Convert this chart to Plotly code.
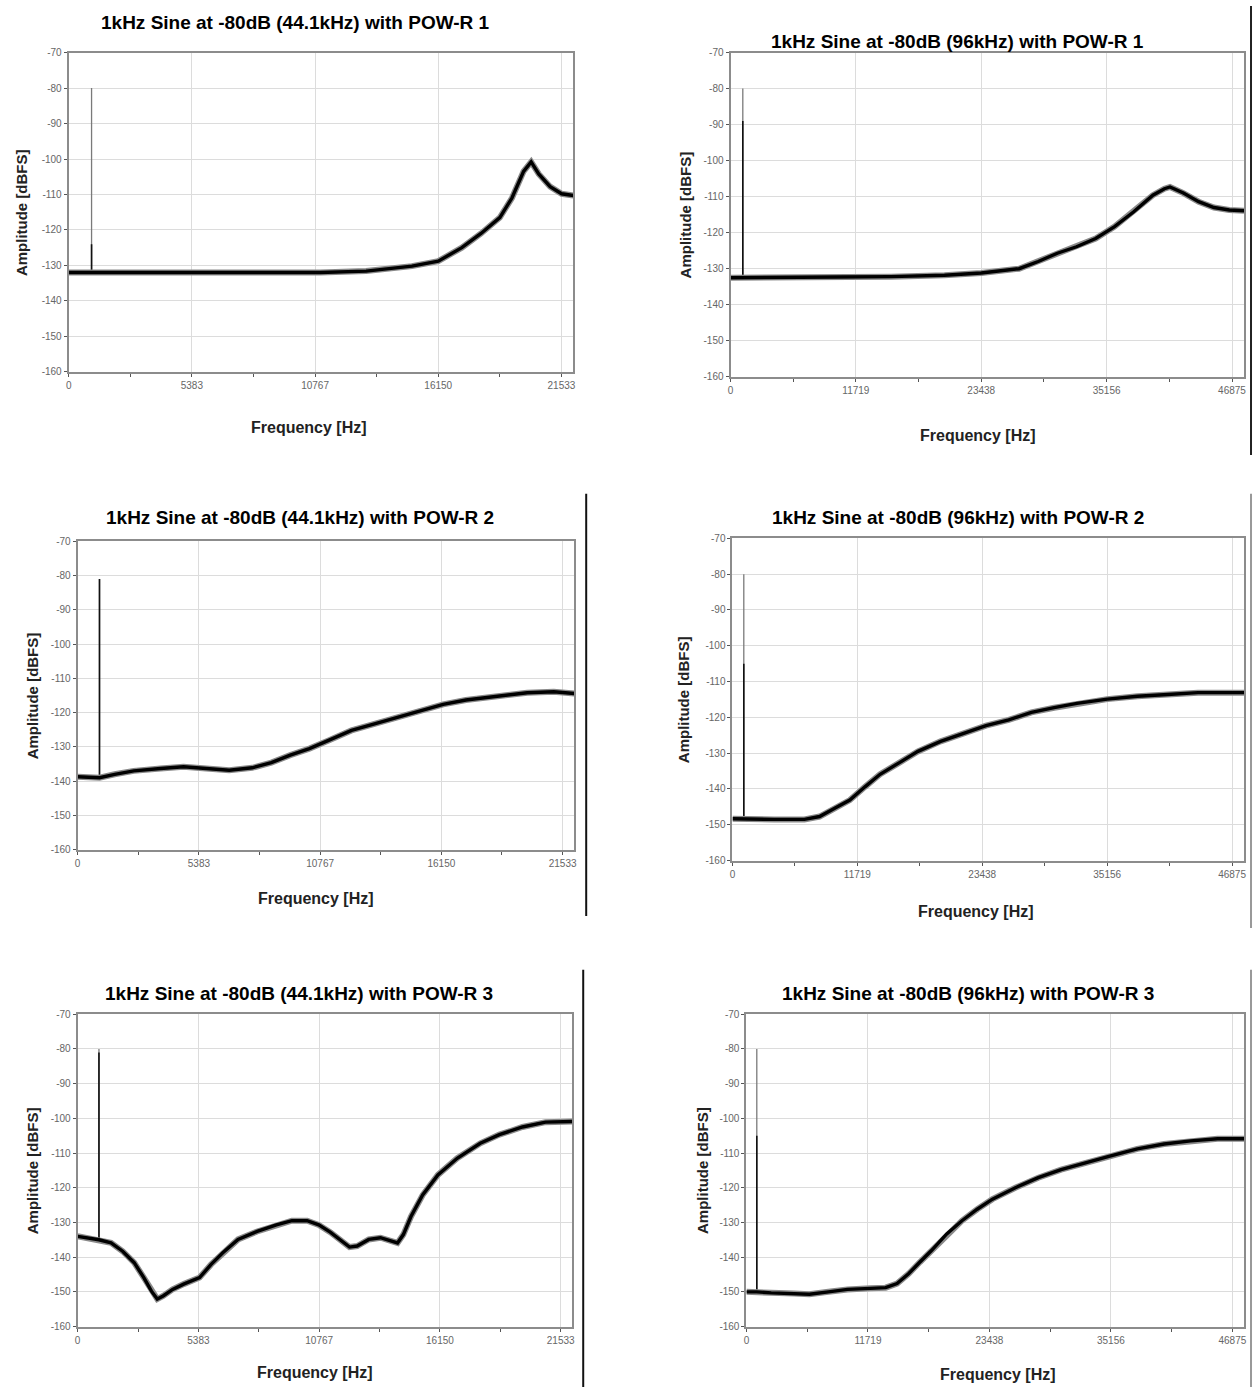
import plotly.graph_objects as go

W, H = 1256, 1393

# ---- data (frequency in Hz, level in dBFS) ----
f44_ticks = [0, 5383, 10767, 16150, 21533]
f96_ticks = [0, 11719, 23438, 35156, 46875]
db_ticks = [-70, -80, -90, -100, -110, -120, -130, -140, -150, -160]

# POW-R 1, 44.1 kHz
p1_freq = [0, 1000, 2000, 5000, 8000, 11000, 13000, 13850, 15000, 16150, 17180, 18020,
           18840, 19370, 19880, 20210, 20540, 21040, 21540, 22050]
p1_level = [-132, -132, -132.2, -132, -132.2, -132, -131.6, -131, -130.2, -128.8, -125, -121,
            -116.5, -111, -103.5, -100.8, -104.2, -107.8, -109.8, -110.3]

# POW-R 1, 96 kHz
p2_freq = [0, 1150, 5000, 10000, 15000, 20000, 23438, 26970, 28760, 30550, 32340, 34130,
           35900, 37690, 39480, 40560, 41080, 42330, 43760, 45190, 46620, 48000]
p2_level = [-132.5, -132.5, -132.5, -132.3, -132.2, -131.8, -131.2, -130, -128, -125.7, -123.9, -121.6,
            -118.3, -114.2, -109.6, -107.8, -107.3, -109, -111.4, -113, -113.7, -113.9]

# POW-R 2, 44.1 kHz
p3_freq = [0, 970, 1645, 2490, 3680, 4700, 5710, 6730, 7750, 8600, 9440, 10290, 11140,
           12160, 13180, 14190, 15210, 16230, 17240, 18600, 19960, 21140, 22050]
p3_level = [-138.7, -139, -138, -137, -136.3, -135.8, -136.3, -136.8, -136.1, -134.6, -132.4, -130.5, -128.1,
            -125.2, -123.3, -121.4, -119.5, -117.6, -116.3, -115.2, -114.2, -113.9, -114.4]

# POW-R 2, 96 kHz
p4_freq = [0, 1060, 3906, 6750, 8170, 9590, 11010, 12430, 13850, 15630, 17400, 19530, 21660,
           23790, 25920, 28050, 30180, 32320, 35160, 38000, 40840, 43680, 48000]
p4_level = [-148.3, -148.4, -148.5, -148.5, -147.7, -145.4, -143.1, -139.4, -135.9, -132.7, -129.5, -126.7, -124.4,
            -122.3, -120.7, -118.6, -117.3, -116.1, -114.9, -114.1, -113.6, -113.1, -113.1]

# POW-R 3, 44.1 kHz
p5_freq = [0, 463, 950, 1490, 2006, 2520, 2950, 3290, 3550, 3810, 4234, 4750, 5435, 5950,
           6460, 7150, 8000, 8860, 9550, 10230, 10750, 11260, 11780, 12120, 12460, 12980,
           13500, 14010, 14260, 14520, 14860, 15380, 16060, 16920, 17950, 18800, 19830,
           20860, 22050]
p5_level = [-134, -134.5, -135, -135.9, -138.3, -141.6, -145.9, -149.8, -152.1, -151.2, -149.3, -147.7, -145.9, -142.1,
            -138.8, -134.9, -132.6, -130.7, -129.5, -129.5, -130.7, -132.8, -135.4, -137.1, -136.8, -134.9,
            -134.4, -135.4, -135.9, -133.5, -128.3, -122.1, -116.3, -111.5, -107.2, -104.7, -102.5,
            -101.1, -100.9]

# POW-R 3, 96 kHz
p6_freq = [0, 1000, 2390, 4600, 6070, 7910, 9750, 11960, 13430, 14530, 15640, 16740, 17850,
           19320, 20790, 22260, 23730, 25940, 28150, 30350, 32560, 35140, 37710, 40290,
           42860, 45440, 48000]
p6_level = [-150, -150, -150.3, -150.5, -150.7, -150, -149.3, -149, -148.8, -147.6, -144.8, -141.4, -138.1,
            -133.3, -129.5, -126.2, -123.3, -120, -117.1, -114.8, -112.9, -110.8, -108.8, -107.4,
            -106.5, -105.9, -105.9]

# the 1 kHz tone: frequency, top of the spike, top of its dark lower part
spike_freq = [1000, 1150, 970, 1060, 950, 1000]
spike_top = [-80, -80, -81, -80, -80, -80]
spike_mid = [-124, -89, -81, -105, -81, -105]

titles = [
    "1kHz Sine at -80dB (44.1kHz) with POW-R 1",
    "1kHz Sine at -80dB (96kHz) with POW-R 1",
    "1kHz Sine at -80dB (44.1kHz) with POW-R 2",
    "1kHz Sine at -80dB (96kHz) with POW-R 2",
    "1kHz Sine at -80dB (44.1kHz) with POW-R 3",
    "1kHz Sine at -80dB (96kHz) with POW-R 3",
]

series = [(p1_freq, p1_level), (p2_freq, p2_level), (p3_freq, p3_level),
          (p4_freq, p4_level), (p5_freq, p5_level), (p6_freq, p6_level)]

# ---- layout in pixels: plot box (left, right, top, bottom), title y/x, x-title y/x, y-title x
boxes = [
    dict(l=66, r=573, t=47, b=369, ty=17, tx=294, xty=425, xtx=307, ytx=18),
    dict(l=731, r=1247, t=47, b=374, ty=36, tx=959, xty=433, xtx=980, ytx=686),
    dict(l=75, r=574, t=540, b=851, ty=516, tx=298, xty=900, xtx=315, ytx=30),
    dict(l=733, r=1247, t=537, b=862, ty=516, tx=960, xty=913, xtx=978, ytx=684),
    dict(l=75, r=572, t=1017, b=1332, ty=996, tx=297, xty=1378, xtx=313, ytx=30),
    dict(l=747, r=1247, t=1017, b=1332, ty=996, tx=970, xty=1380, xtx=1000, ytx=703),
]


def px(x):
    return x / W


def py(y):
    return 1 - y / H


fig = go.Figure()
annotations = []
shapes = []

for i, ((fx, lv), box) in enumerate(zip(series, boxes)):
    n = i + 1
    xa = "x" if n == 1 else f"x{n}"
    ya = "y" if n == 1 else f"y{n}"
    is44 = i % 2 == 0
    ticks = f44_ticks if is44 else f96_ticks
    xmax = 22050 if is44 else 48000
    minor = [(a + b) / 2 for a, b in zip(ticks[:-1], ticks[1:])]

    floor = lv[fx.index(min(fx, key=lambda v: abs(v - spike_freq[i])))]
    # tone spike (light upper part, dark lower part)
    fig.add_trace(go.Scatter(x=[spike_freq[i], spike_freq[i]], y=[floor, spike_top[i]],
                             mode="lines", line=dict(color="#7a7a7a", width=1.3),
                             xaxis=xa, yaxis=ya, showlegend=False, hoverinfo="skip"))
    fig.add_trace(go.Scatter(x=[spike_freq[i], spike_freq[i]], y=[floor, spike_mid[i]],
                             mode="lines", line=dict(color="#111", width=1.6),
                             xaxis=xa, yaxis=ya, showlegend=False, hoverinfo="skip"))
    # noise band halo + trace
    fig.add_trace(go.Scatter(x=fx, y=lv, mode="lines", line=dict(color="#8a8a8a", width=6),
                             xaxis=xa, yaxis=ya, showlegend=False, hoverinfo="skip"))
    fig.add_trace(go.Scatter(x=fx, y=lv, mode="lines", line=dict(color="#000", width=3.4),
                             xaxis=xa, yaxis=ya, showlegend=False))

    axis_common = dict(showline=True, mirror=True, linecolor="#8c8c8c", linewidth=2,
                       showgrid=True, gridcolor="#dcdcdc", gridwidth=1, zeroline=False,
                       ticks="outside", ticklen=3, tickcolor="#555", tickwidth=1,
                       tickfont=dict(family="Liberation Sans Narrow, Liberation Sans", size=10, color="#666"))
    fig.update_layout(**{
        ("xaxis" if n == 1 else f"xaxis{n}"): dict(
            axis_common, domain=[px(box["l"]), px(box["r"])], anchor=ya,
            range=[0, xmax], tickmode="array", tickvals=ticks,
            ticktext=[str(t) for t in ticks],
            minor=dict(tickmode="array", tickvals=minor, ticks="outside", ticklen=3,
                       tickcolor="#555", showgrid=False)),
        ("yaxis" if n == 1 else f"yaxis{n}"): dict(
            axis_common, domain=[py(box["b"]), py(box["t"])], anchor=xa,
            range=[-160, -70], tickmode="array", tickvals=db_ticks,
            ticktext=[str(t) for t in db_ticks]),
    })

    annotations.append(dict(text="<b>" + titles[i] + "</b>", x=px(box["tx"]), y=py(box["ty"]),
                            xref="paper", yref="paper", showarrow=False,
                            font=dict(family="Liberation Sans", size=19, color="#000"),
                            xanchor="center", yanchor="middle"))
    annotations.append(dict(text="<b>Frequency [Hz]</b>", x=px(box["xtx"]), y=py(box["xty"]),
                            xref="paper", yref="paper", showarrow=False,
                            font=dict(family="Liberation Sans", size=16, color="#222"),
                            xanchor="center", yanchor="middle"))
    annotations.append(dict(text="<b>Amplitude [dBFS]</b>", x=px(box["ytx"]),
                            y=py((box["t"] + box["b"]) / 2),
                            xref="paper", yref="paper", showarrow=False, textangle=-90,
                            font=dict(family="Liberation Sans", size=15, color="#222"),
                            xanchor="center", yanchor="middle"))

# vertical separator lines seen at the panel edges
for x0, y0, y1, col in [(1254, 0, 453, "#222"), (586, 492, 918, "#111"),
                        (1254, 492, 930, "#999"), (583, 972, 1393, "#111"),
                        (1254, 972, 1393, "#999")]:
    shapes.append(dict(type="line", xref="paper", yref="paper",
                       x0=px(x0), x1=px(x0), y0=py(y0), y1=py(y1),
                       line=dict(color=col, width=2)))

fig.update_layout(width=W, height=H, margin=dict(l=0, r=0, t=0, b=0),
                  paper_bgcolor="white", plot_bgcolor="white",
                  annotations=annotations, shapes=shapes, showlegend=False)

# drop the default page margin so the 1256x1393 figure fills the window exactly
fig.write_html("out.html", config={"displayModeBar": False},
               post_script="document.body.style.margin='0';")
